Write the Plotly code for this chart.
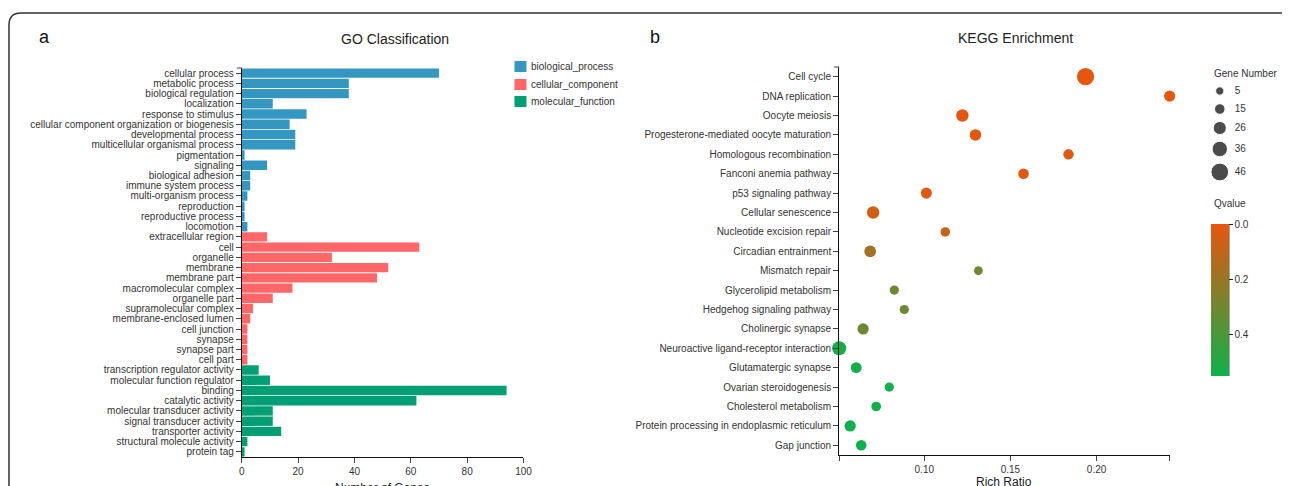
import plotly.graph_objects as go

W, H = 1290, 486
FONT = "Liberation Sans, Arial, sans-serif"

# ---------------- GO data ----------------
go_terms = [
    "cellular process", "metabolic process", "biological regulation", "localization",
    "response to stimulus", "cellular component organization or biogenesis",
    "developmental process", "multicellular organismal process", "pigmentation",
    "signaling", "biological adhesion", "immune system process", "multi-organism process",
    "reproduction", "reproductive process", "locomotion",
    "extracellular region", "cell", "organelle", "membrane", "membrane part",
    "macromolecular complex", "organelle part", "supramolecular complex",
    "membrane-enclosed lumen", "cell junction", "synapse", "synapse part", "cell part",
    "transcription regulator activity", "molecular function regulator", "binding",
    "catalytic activity", "molecular transducer activity", "signal transducer activity",
    "transporter activity", "structural molecule activity", "protein tag",
]
go_counts = [70, 38, 38, 11, 23, 17, 19, 19, 1, 9, 3, 3, 2, 1, 1, 2,
             9, 63, 32, 52, 48, 18, 11, 4, 3, 2, 2, 2, 2,
             6, 10, 94, 62, 11, 11, 14, 2, 1]
go_class = (["biological_process"] * 16 + ["cellular_component"] * 13 +
            ["molecular_function"] * 9)
class_names = ["biological_process", "cellular_component", "molecular_function"]
class_colors = {"biological_process": "#3497c1",
                "cellular_component": "#fe6667",
                "molecular_function": "#019f73"}

# ---------------- KEGG data ----------------
kegg_terms = [
    "Cell cycle", "DNA replication", "Oocyte meiosis",
    "Progesterone-mediated oocyte maturation", "Homologous recombination",
    "Fanconi anemia pathway", "p53 signaling pathway", "Cellular senescence",
    "Nucleotide excision repair", "Circadian entrainment", "Mismatch repair",
    "Glycerolipid metabolism", "Hedgehog signaling pathway", "Cholinergic synapse",
    "Neuroactive ligand-receptor interaction", "Glutamatergic synapse",
    "Ovarian steroidogenesis", "Cholesterol metabolism",
    "Protein processing in endoplasmic reticulum", "Gap junction",
]
rich_ratio = [0.1936, 0.2424, 0.1221, 0.1297, 0.1837, 0.1576, 0.1012, 0.0703,
              0.1122, 0.0686, 0.1314, 0.0826, 0.0884, 0.0645, 0.0506, 0.0605,
              0.0797, 0.0721, 0.0570, 0.0634]
gene_number = [44, 17, 23, 19, 14, 15, 17, 23, 10, 20, 7, 9, 9, 18, 30, 16,
               9, 11, 18, 15]
qvalue = [0.003, 0.008, 0.01, 0.012, 0.015, 0.02, 0.025, 0.055, 0.08, 0.18,
          0.31, 0.31, 0.31, 0.31, 0.53, 0.535, 0.54, 0.54, 0.545, 0.548]
size_legend_values = [5, 15, 26, 36, 46]
q_ticks = [0.0, 0.2, 0.4]
q_max = 0.548

# page placement correction (observed page offset / horizontal scale)
OFFX, OFFY, SX = 10, 8, 0.9917


def diam(g):
    return 8.3 + 0.23 * (g - 5)


def px(x):
    return ((x - OFFX) / SX) / W


def py(y):
    return 1 - (y - OFFY) / H


fig = go.Figure()

# GO bars
for cname in class_names:
    ys = [t for t, c in zip(go_terms, go_class) if c == cname]
    xs = [v for v, c in zip(go_counts, go_class) if c == cname]
    fig.add_trace(go.Bar(
        x=xs, y=ys, orientation="h", name=cname, showlegend=False,
        marker=dict(color=class_colors[cname], line=dict(width=0)),
        xaxis="x", yaxis="y",
    ))

# KEGG bubbles
fig.add_trace(go.Scatter(
    x=rich_ratio, y=kegg_terms, mode="markers", showlegend=False,
    cliponaxis=False,
    marker=dict(
        size=[diam(g) for g in gene_number], sizemode="diameter", opacity=1,
        color=[-q for q in qvalue], cmin=-q_max, cmax=0,
        colorscale=[[0, "#0db14b"], [1, "#e8550e"]],
        line=dict(width=0),
        colorbar=dict(
            x=px(1211), xanchor="left", y=py(224), yanchor="top",
            len=152 / H, lenmode="fraction", thickness=18, thicknessmode="pixels",
            outlinewidth=0, xpad=0, ypad=0,
            tickvals=[-t for t in q_ticks], ticktext=[f"{t:.1f}" for t in q_ticks],
            ticks="outside", ticklen=4, tickcolor="#222", tickwidth=1,
            tickfont=dict(size=10, color="#333", family=FONT),
        ),
    ),
    xaxis="x2", yaxis="y2",
))

# Size legend
leg_y = [91, 109, 128, 149, 172]
fig.add_trace(go.Scatter(
    x=[1220] * len(size_legend_values), y=leg_y, mode="markers", showlegend=False,
    cliponaxis=False,
    marker=dict(size=[diam(g) for g in size_legend_values], sizemode="diameter",
                color="black"),
    xaxis="x3", yaxis="y3", hoverinfo="skip",
))
fig.add_trace(go.Scatter(
    x=[1235] * len(size_legend_values), y=leg_y, mode="text", showlegend=False,
    cliponaxis=False,
    text=[str(v) for v in size_legend_values], textposition="middle right",
    textfont=dict(size=10, color="#333", family=FONT),
    xaxis="x3", yaxis="y3", hoverinfo="skip",
))

axis_common = dict(showline=True, linecolor="#111", linewidth=1, ticks="outside",
                   ticklen=5, tickcolor="#444", tickwidth=1, showgrid=False,
                   zeroline=False, tickfont=dict(size=10, color="#333", family=FONT))

frame_path = (f"M {px(8)},{py(520)} L {px(8)},{py(25)} Q {px(8)},{py(13)} {px(20)},{py(13)} "
              f"L {px(1281)},{py(13)} Q {px(1293)},{py(13)} {px(1293)},{py(25)} "
              f"L {px(1293)},{py(520)}")


def ann(text, x, y, size, xanchor="center", color="#222"):
    return dict(text=text, x=px(x), y=py(y), xref="paper", yref="paper",
                xanchor=xanchor, yanchor="middle", showarrow=False,
                font=dict(size=size, color=color, family=FONT))


def hline(x0, x1, y, color="#444"):
    return dict(type="line", xref="paper", yref="paper", x0=px(x0), x1=px(x1),
                y0=py(y), y1=py(y), line=dict(color=color, width=1))


# manual GO legend (squares + labels)
legend_y = [66.5, 84.5, 101.5]
legend_shapes = [
    dict(type="rect", xref="paper", yref="paper", x0=px(514), x1=px(526),
         y0=py(yc + 5.5), y1=py(yc - 5.5), fillcolor=class_colors[c], line=dict(width=0))
    for c, yc in zip(class_names, legend_y)
]
legend_anns = [ann(c, 529, yc, 10, xanchor="left", color="#333")
               for c, yc in zip(class_names, legend_y)]

# outer end ticks of the category axes
outer_ticks = [hline(236, 241, 68), hline(834, 839, 67)]

fig.update_layout(
    width=W, height=H,
    margin=dict(l=0, r=0, t=0, b=0),
    paper_bgcolor="white", plot_bgcolor="white",
    font=dict(family=FONT, color="#333", size=10),
    bargap=0.08, barmode="overlay", showlegend=False,
    xaxis=dict(domain=[px(241), px(523)], range=[0, 100], tickvals=[0, 20, 40, 60, 80, 100],
               anchor="y", **axis_common),
    yaxis=dict(domain=[py(457), py(68)], categoryorder="array", categoryarray=go_terms,
               tickmode="array", tickvals=go_terms,
               autorange="reversed", anchor="x", **axis_common),
    xaxis2=dict(domain=[px(839), px(1170)], range=[0.0506, 0.2425],
                tickvals=[0.0506, 0.10, 0.15, 0.20, 0.2425],
                ticktext=["", "0.10", "0.15", "0.20", ""], anchor="y2", **axis_common),
    yaxis2=dict(domain=[py(455), py(67)], categoryorder="array", categoryarray=kegg_terms,
                tickmode="array", tickvals=kegg_terms,
                range=[19.5, -0.5], anchor="x2", **axis_common),
    xaxis3=dict(domain=[px(1190), px(1260)], range=[1190, 1260], visible=False, anchor="y3"),
    yaxis3=dict(domain=[py(190), py(70)], range=[190, 70], visible=False, anchor="x3"),
    shapes=[
        dict(type="path", path=frame_path, xref="paper", yref="paper",
             line=dict(color="#333", width=1.5)),
        dict(type="line", xref="paper", yref="paper", x0=px(1229), x1=px(1229),
             y0=py(224), y1=py(376), line=dict(color="#111", width=1.2)),
    ] + legend_shapes + outer_ticks,
    annotations=[
        ann("a", 44, 37, 18, color="#111"),
        ann("b", 655, 37, 18, color="#111"),
        ann("GO Classification", 394, 39, 14),
        ann("KEGG Enrichment", 1016, 38, 14),
        ann("Number of Genes", 382, 488, 12),
        ann("Rich Ratio", 1004, 482, 12),
        ann("Gene Number", 1212, 73, 10, xanchor="left", color="#333"),
        ann("Qvalue", 1212, 204, 10, xanchor="left", color="#333"),
    ] + legend_anns,
)

fig.write_html("out.html")
